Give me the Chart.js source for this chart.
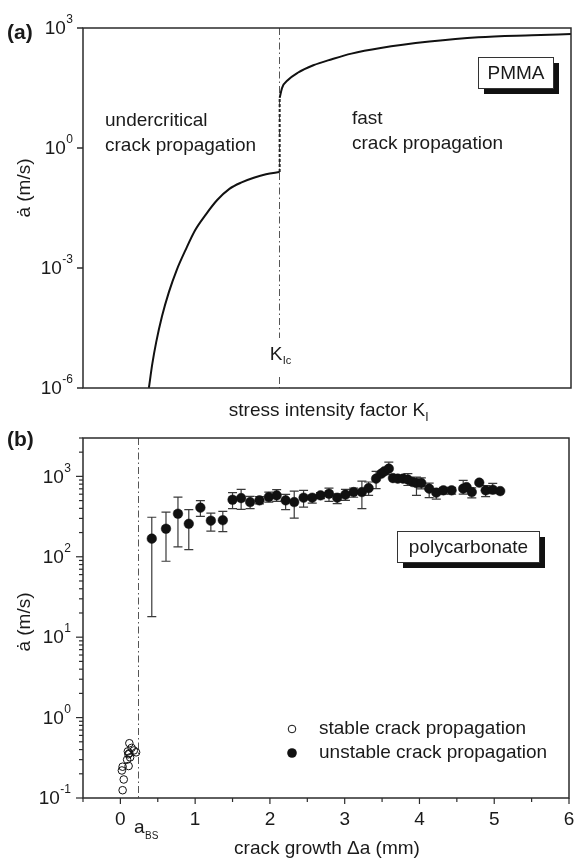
<!DOCTYPE html>
<html><head><meta charset="utf-8">
<script src="https://cdn.jsdelivr.net/npm/chart.js@4"></script>
<style>
html,body{margin:0;padding:0;background:#fff;}
#wrap{position:relative;width:576px;height:861px;overflow:hidden;}
canvas{position:absolute;left:0;}
</style></head><body>
<div id="wrap">
<canvas id="ca" width="576" height="430" style="top:0"></canvas>
<canvas id="cb" width="576" height="431" style="top:430px"></canvas>
</div>
<script>
// ---------- Panel (a): PMMA ----------
const subcritK  = [1.35, 1.42, 1.5, 1.62, 1.76, 1.92, 2.1, 2.3, 2.52, 2.75, 3.0, 3.25, 3.5, 3.75, 4.03];
const subcritV  = [1e-6, 4e-6, 1.4e-5, 6.3e-5, 2.5e-4, 8.9e-4, 2.8e-3, 8.9e-3, 0.022, 0.05, 0.095, 0.138, 0.18, 0.22, 0.25];
const fastK     = [4.03, 4.08, 4.2, 4.4, 4.72, 5.1, 5.5, 6.1, 7.1, 8.1, 9.2, 10];
const fastV     = [18, 32, 50, 76, 117, 166, 229, 316, 457, 589, 661, 708];
const K_IC      = 4.03;
const aYTickVals = [1e3, 1, 1e-3, 1e-6];
const aYTickExp  = ['3', '0', '-3', '-6'];

// ---------- Panel (b): polycarbonate ----------
const stableX = [0.03, 0.045, 0.02, 0.03, 0.11, 0.09, 0.107, 0.12, 0.15, 0.12, 0.18, 0.21, 0.13, 0.10];
const stableV = [0.125, 0.17, 0.22, 0.245, 0.25, 0.30, 0.35, 0.36, 0.42, 0.48, 0.39, 0.37, 0.32, 0.38];
const unstableX = [0.42, 0.61, 0.77, 0.915, 1.07, 1.21, 1.37, 1.50, 1.615, 1.735, 1.86, 1.985, 2.09, 2.21, 2.325,
  2.45, 2.566, 2.677, 2.79, 2.90, 3.01, 3.12, 3.23, 3.32, 3.42, 3.49, 3.53, 3.59, 3.645, 3.71, 3.78, 3.845, 3.91,
  3.96, 4.025, 4.13, 4.225, 4.32, 4.43, 4.585, 4.63, 4.70, 4.80, 4.885, 4.98, 5.08];
const unstableV = [168, 223, 343, 257, 408, 281, 285, 512, 537, 479, 503, 553, 580, 503, 479,
  543, 543, 580, 608, 543, 592, 638, 638, 714, 937, 1081, 1154, 1247, 952, 937, 937, 910, 850,
  826, 826, 703, 627, 670, 670, 703, 736, 638, 835, 670, 683, 656];
const unstableLo = [18, 88, 133, 123, 318, 209, 205, 396, 389, 396, 455, 479, 488, 385, 303,
  415, 466, 530, 488, 458, 503, 550, 396, 580, 703, null, null, 1050, null, null, null, 770, null,
  580, 700, 545, 520, 600, 600, 600, null, 540, null, 560, 610, null];
const unstableHi = [310, 359, 552, 385, 500, 349, 366, 627, 689, 563, 560, 638, 683, 597, 656,
  670, 580, 630, 714, 608, 689, 714, 875, 851, 1154, null, null, 1507, null, null, null, 1081, null,
  980, 960, 826, 700, 730, 730, 890, null, 720, null, 770, 820, null];
const A_BS = 0.25;
const bXTickVals = [0, 1, 2, 3, 4, 5, 6];
const bXMinorVals = [-0.5, 0.5, 1.5, 2.5, 3.5, 4.5, 5.5];
const bYTickVals = [0.1, 1, 10, 100, 1000];
const bYTickExp  = ['-1', '0', '1', '2', '3'];

const FONT = '"Liberation Sans", Arial, "DejaVu Sans", sans-serif';
const INK = '#1a1a1a';
const AXIS = '#2b2b2b';

function txt(ctx, s, x, y, size, align, bold) {
  ctx.font = (bold ? 'bold ' : '') + size + 'px ' + FONT;
  ctx.textAlign = align || 'left';
  ctx.textBaseline = 'middle';
  ctx.fillStyle = INK;
  ctx.fillText(s, x, y);
}
function powLabel(ctx, exp, rightX, y) {
  ctx.font = '12px ' + FONT;
  const ew = ctx.measureText(exp).width;
  ctx.textBaseline = 'middle';
  ctx.fillStyle = INK;
  ctx.textAlign = 'left';
  ctx.fillText(exp, rightX - ew, y - 8);
  txt(ctx, '10', rightX - ew - 0.5, y + 1, 19, 'right');
}
function dashDot(ctx, x, y1, y2) {
  ctx.save();
  ctx.strokeStyle = '#555';
  ctx.lineWidth = 1;
  ctx.setLineDash([7, 3, 1.5, 3]);
  ctx.beginPath(); ctx.moveTo(x + 0.5, y1); ctx.lineTo(x + 0.5, y2); ctx.stroke();
  ctx.restore();
}
function shadowBox(ctx, x, y, w, h, label) {
  ctx.fillStyle = '#111';
  ctx.fillRect(x + 6, y + 6, w, h);
  ctx.fillStyle = '#fff';
  ctx.fillRect(x, y, w, h);
  ctx.strokeStyle = '#333'; ctx.lineWidth = 1;
  ctx.strokeRect(x + 0.5, y + 0.5, w, h);
  txt(ctx, label, x + w / 2 + 0.5, y + h / 2 + 1, 19, 'center');
}
function yTitle(ctx, cx, cy) {
  ctx.save();
  ctx.translate(cx, cy);
  ctx.rotate(-Math.PI / 2);
  txt(ctx, '\u0227 (m/s)', 0, 0, 19, 'center');
  ctx.restore();
}

const panelA = {
  id: 'panelA',
  beforeDatasetsDraw(chart) {
    const ctx = chart.ctx, a = chart.chartArea;
    const px = Math.round(chart.scales.x.getPixelForValue(K_IC));
    dashDot(ctx, px - 1, a.top, 338);
    dashDot(ctx, px - 1, 377, a.bottom);
  },
  afterDraw(chart) {
    const ctx = chart.ctx, a = chart.chartArea, ys = chart.scales.y, xs = chart.scales.x;
    ctx.save();
    ctx.strokeStyle = AXIS; ctx.lineWidth = 1.5;
    ctx.strokeRect(a.left, a.top, a.right - a.left, a.bottom - a.top);
    aYTickVals.forEach((v, i) => {
      const y = ys.getPixelForValue(v);
      ctx.beginPath(); ctx.moveTo(a.left - 6, y); ctx.lineTo(a.left, y); ctx.stroke();
      powLabel(ctx, aYTickExp[i], 73, y);
    });
    txt(ctx, '(a)', 7, 33, 21, 'left', true);
    yTitle(ctx, 25, 188);
    txt(ctx, 'undercritical', 105, 121, 19);
    txt(ctx, 'crack propagation', 105, 146, 19);
    txt(ctx, 'fast', 352, 119, 19);
    txt(ctx, 'crack propagation', 352, 144, 19);
    const kx = xs.getPixelForValue(K_IC);
    txt(ctx, 'K', kx - 10, 355, 19);
    txt(ctx, 'Ic', kx + 3, 361, 11);
    shadowBox(ctx, 478, 57, 75, 31, 'PMMA');
    ctx.font = '19px ' + FONT;
    const t = 'stress intensity factor K';
    const tw = ctx.measureText(t).width;
    const x0 = 327 - tw / 2;
    txt(ctx, t, x0, 411, 19);
    txt(ctx, 'I', x0 + tw, 418, 12);
    ctx.restore();
  }
};

const panelB = {
  id: 'panelB',
  beforeDatasetsDraw(chart) {
    const ctx = chart.ctx, a = chart.chartArea, xs = chart.scales.x, ys = chart.scales.y;
    dashDot(ctx, Math.round(xs.getPixelForValue(A_BS)) - 1, a.top, a.bottom);
    ctx.save();
    ctx.beginPath(); ctx.rect(a.left, a.top, a.right - a.left, a.bottom - a.top); ctx.clip();
    ctx.strokeStyle = '#3a3a3a'; ctx.lineWidth = 1.2;
    unstableX.forEach((x, i) => {
      if (unstableLo[i] == null) return;
      const px = xs.getPixelForValue(x);
      const y1 = ys.getPixelForValue(unstableLo[i]), y2 = ys.getPixelForValue(unstableHi[i]);
      ctx.beginPath();
      ctx.moveTo(px, y1); ctx.lineTo(px, y2);
      ctx.moveTo(px - 4.5, y1); ctx.lineTo(px + 4.5, y1);
      ctx.moveTo(px - 4.5, y2); ctx.lineTo(px + 4.5, y2);
      ctx.stroke();
    });
    ctx.restore();
  },
  afterDraw(chart) {
    const ctx = chart.ctx, a = chart.chartArea, xs = chart.scales.x, ys = chart.scales.y;
    ctx.save();
    ctx.strokeStyle = AXIS; ctx.lineWidth = 1.5;
    ctx.strokeRect(a.left, a.top, a.right - a.left, a.bottom - a.top);
    ctx.lineWidth = 1.2;
    bYTickVals.forEach((v, i) => {
      const y = ys.getPixelForValue(v);
      ctx.beginPath(); ctx.moveTo(a.left - 7, y); ctx.lineTo(a.left, y); ctx.stroke();
      powLabel(ctx, bYTickExp[i], 71, y);
      for (let m = 2; m <= 9; m++) {
        const mv = v * m;
        if (mv > ys.max + 1e-9) break;
        const my = ys.getPixelForValue(mv);
        ctx.beginPath(); ctx.moveTo(a.left - 4, my); ctx.lineTo(a.left, my); ctx.stroke();
      }
    });
    bXTickVals.forEach(v => {
      const x = xs.getPixelForValue(v);
      ctx.beginPath(); ctx.moveTo(x, a.bottom); ctx.lineTo(x, a.bottom + 6); ctx.stroke();
      txt(ctx, String(v), x, a.bottom + 22, 19, 'center');
    });
    bXMinorVals.forEach(v => {
      const x = xs.getPixelForValue(v);
      ctx.beginPath(); ctx.moveTo(x, a.bottom); ctx.lineTo(x, a.bottom + 4); ctx.stroke();
    });
    const ax = xs.getPixelForValue(A_BS);
    txt(ctx, 'a', ax - 5, a.bottom + 30, 19, 'left');
    txt(ctx, 'BS', ax + 6, a.bottom + 38, 10, 'left');
    txt(ctx, '(b)', 7, 10, 21, 'left', true);
    yTitle(ctx, 25, 192);
    txt(ctx, 'crack growth \u0394a (mm)', 327, 419, 19, 'center');
    shadowBox(ctx, 397, 101, 142, 31, 'polycarbonate');
    ctx.fillStyle = '#fff'; ctx.strokeStyle = '#111'; ctx.lineWidth = 1;
    ctx.beginPath(); ctx.arc(292, 299, 3.8, 0, Math.PI * 2); ctx.fill(); ctx.stroke();
    ctx.fillStyle = '#111';
    ctx.beginPath(); ctx.arc(292, 323, 4.8, 0, Math.PI * 2); ctx.fill();
    txt(ctx, 'stable crack propagation', 319, 299, 19);
    txt(ctx, 'unstable crack propagation', 319, 323, 19);
    ctx.restore();
  }
};

const common = {
  responsive: false, animation: false, devicePixelRatio: 1, events: [],
  plugins: { legend: { display: false }, tooltip: { enabled: false } }
};

new Chart(document.getElementById('ca'), {
  type: 'scatter',
  data: { datasets: [
    { data: subcritK.map((x, i) => ({ x, y: subcritV[i] })), showLine: true, borderColor: '#111', borderWidth: 2,
      pointRadius: 0, cubicInterpolationMode: 'monotone' },
    { data: fastK.map((x, i) => ({ x, y: fastV[i] })), showLine: true, borderColor: '#111', borderWidth: 2,
      pointRadius: 0, cubicInterpolationMode: 'monotone' },
    { data: [{ x: K_IC, y: subcritV[subcritV.length - 1] }, { x: K_IC, y: fastV[0] }], showLine: true,
      borderColor: '#222', borderWidth: 2, borderDash: [3, 2], pointRadius: 0 }
  ]},
  options: Object.assign({}, common, {
    layout: { padding: { left: 83, right: 5, top: 28, bottom: 42 } },
    scales: {
      x: { type: 'linear', min: 0, max: 10, display: false },
      y: { type: 'logarithmic', min: 1e-6, max: 1e3, display: false }
    }
  }),
  plugins: [panelA]
});

new Chart(document.getElementById('cb'), {
  type: 'scatter',
  data: { datasets: [
    { data: stableX.map((x, i) => ({ x, y: stableV[i] })), pointRadius: 3.8, pointBorderWidth: 1,
      pointBackgroundColor: 'rgba(255,255,255,0)', pointBorderColor: '#111' },
    { data: unstableX.map((x, i) => ({ x, y: unstableV[i] })), pointRadius: 4.8, pointBorderWidth: 0.5,
      pointBackgroundColor: '#111', pointBorderColor: '#111' }
  ]},
  options: Object.assign({}, common, {
    layout: { padding: { left: 83, right: 7, top: 8, bottom: 63 } },
    scales: {
      x: { type: 'linear', min: -0.5, max: 6, display: false },
      y: { type: 'logarithmic', min: 0.1, max: 3000, display: false }
    }
  }),
  plugins: [panelB]
});
</script>
</body></html>
